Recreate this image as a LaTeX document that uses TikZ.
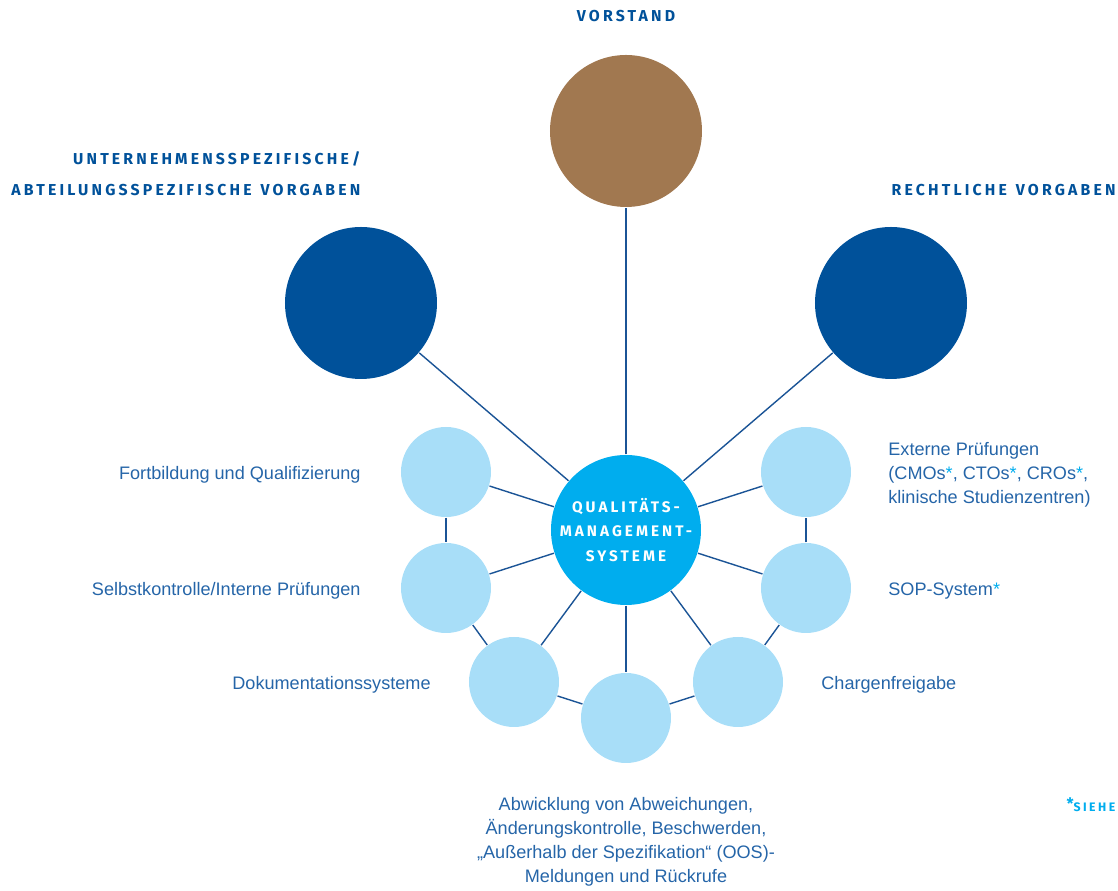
\documentclass[tikz,border=0pt]{standalone}
\usepackage{fontspec}
\setmainfont{Liberation Sans}
\newfontfamily\capsfont[LetterSpace=20, WordSpace=1.3]{Fira Sans}
\usetikzlibrary{positioning}

\definecolor{qmDark}{HTML}{00519A}
\definecolor{qmBrown}{HTML}{A17850}
\definecolor{qmCyan}{HTML}{00ADEE}
\definecolor{qmLight}{HTML}{A8DEF8}
\definecolor{qmText}{HTML}{2565A8}
\definecolor{qmLine}{HTML}{1B5496}

\newcommand{\qmStar}{\textcolor{qmCyan}{*}}

\begin{document}
\begin{tikzpicture}[auto, node distance=2cm, line width=0.8pt]
        % Stile fuer Kreise und Beschriftungen
        \tikzstyle{bigCircle} = [circle, fill=qmDark, minimum size=3.04cm, inner sep=0pt]
        \tikzstyle{qmCircle} = [circle, fill=qmCyan, minimum size=3cm, inner sep=0pt, text=white, align=center, font=\capsfont\bfseries\fontsize{8.7}{13.7}\selectfont]
        \tikzstyle{smallCircle} = [circle, fill=qmLight, minimum size=1.8cm, inner sep=0pt]
        \tikzstyle{caption} = [inner sep=0pt, yshift=-0.06cm, text=qmText, font=\fontsize{10.3}{13.6}\selectfont]
        \tikzstyle{heading} = [inner sep=0pt, text=qmDark, align=right, font=\capsfont\bfseries\fontsize{9}{17.6}\selectfont]
        \tikzstyle{link} = [draw=qmLine]

        \useasboundingbox (-12.52,-7.22) rectangle (9.84,10.6);

        % Kreise
        \node at (0,0) [qmCircle] (circleQms) {QUALITÄTS-\\MANAGEMENT-\\SYSTEME};
        \node [bigCircle, fill=qmBrown, on grid, above=7.98cm of circleQms] (circleVorstand) {};
        \node [bigCircle, on grid, above left=4.54cm and 5.3cm of circleQms] (circleLeft) {};
        \node [bigCircle, on grid, above right=4.54cm and 5.3cm of circleQms] (circleRight) {};
        \node [smallCircle, on grid, above left=1.16cm and 3.6cm of circleQms] (circleFort) {};
        \node [smallCircle, on grid, below left=1.16cm and 3.6cm of circleQms] (circleSelbst) {};
        \node [smallCircle, on grid, below left=3.04cm and 2.24cm of circleQms] (circleDoku) {};
        \node [smallCircle, on grid, below=3.76cm of circleQms] (circleAbw) {};
        \node [smallCircle, on grid, below right=3.04cm and 2.24cm of circleQms] (circleCharge) {};
        \node [smallCircle, on grid, below right=1.16cm and 3.6cm of circleQms] (circleSop) {};
        \node [smallCircle, on grid, above right=1.16cm and 3.6cm of circleQms] (circleExt) {};

        % Beschriftungen
        \node [heading, above=0.64cm of circleVorstand] (labelVorstand) {VORSTAND};
        \node [heading, above left=0.6cm and 0cm of circleLeft.north] (labelLeft) {UNTERNEHMENSSPEZIFISCHE/\\ABTEILUNGSSPEZIFISCHE VORGABEN};
        \node [heading, above right=0.6cm and 0cm of circleRight.north] (labelRight) {RECHTLICHE VORGABEN};
        \node [caption, left=0.78cm of circleFort] (labelFort) {Fortbildung und Qualifizierung};
        \node [caption, left=0.78cm of circleSelbst] (labelSelbst) {Selbstkontrolle/Interne Prüfungen};
        \node [caption, left=0.74cm of circleDoku] (labelDoku) {Dokumentationssysteme};
        \node [caption, align=center, below=0.6cm of circleAbw] (labelAbw) {Abwicklung von Abweichungen,\\Änderungskontrolle, Beschwerden,\\„Außerhalb der Spezifikation“ (OOS)-\\Meldungen und Rückrufe};
        \node [caption, right=0.74cm of circleCharge] (labelCharge) {Chargenfreigabe};
        \node [caption, right=0.72cm of circleSop] (labelSop) {SOP-System\qmStar};
        \node [caption, align=left, right=0.72cm of circleExt] (labelExt) {Externe Prüfungen\\(CMOs\qmStar, CTOs\qmStar, CROs\qmStar,\\klinische Studienzentren)};
        \node at (9.8,-5.64) [anchor=base east, inner sep=0pt, text=qmCyan, font=\capsfont\bfseries\fontsize{7}{8}\selectfont] (labelSiehe) {\raisebox{0.4ex}{\fontsize{9}{9}\selectfont *}SIEHE};

        % Verbindungen
        \draw [link] (circleQms) -- (circleVorstand);
        \draw [link] (circleQms) -- (circleLeft);
        \draw [link] (circleQms) -- (circleRight);
        \draw [link] (circleQms) -- (circleFort);
        \draw [link] (circleQms) -- (circleSelbst);
        \draw [link] (circleQms) -- (circleDoku);
        \draw [link] (circleQms) -- (circleAbw);
        \draw [link] (circleQms) -- (circleCharge);
        \draw [link] (circleQms) -- (circleSop);
        \draw [link] (circleQms) -- (circleExt);
        \draw [link] (circleFort) -- (circleSelbst);
        \draw [link] (circleSelbst) -- (circleDoku);
        \draw [link] (circleDoku) -- (circleAbw);
        \draw [link] (circleAbw) -- (circleCharge);
        \draw [link] (circleCharge) -- (circleSop);
        \draw [link] (circleSop) -- (circleExt);
      \end{tikzpicture}
\end{document}
